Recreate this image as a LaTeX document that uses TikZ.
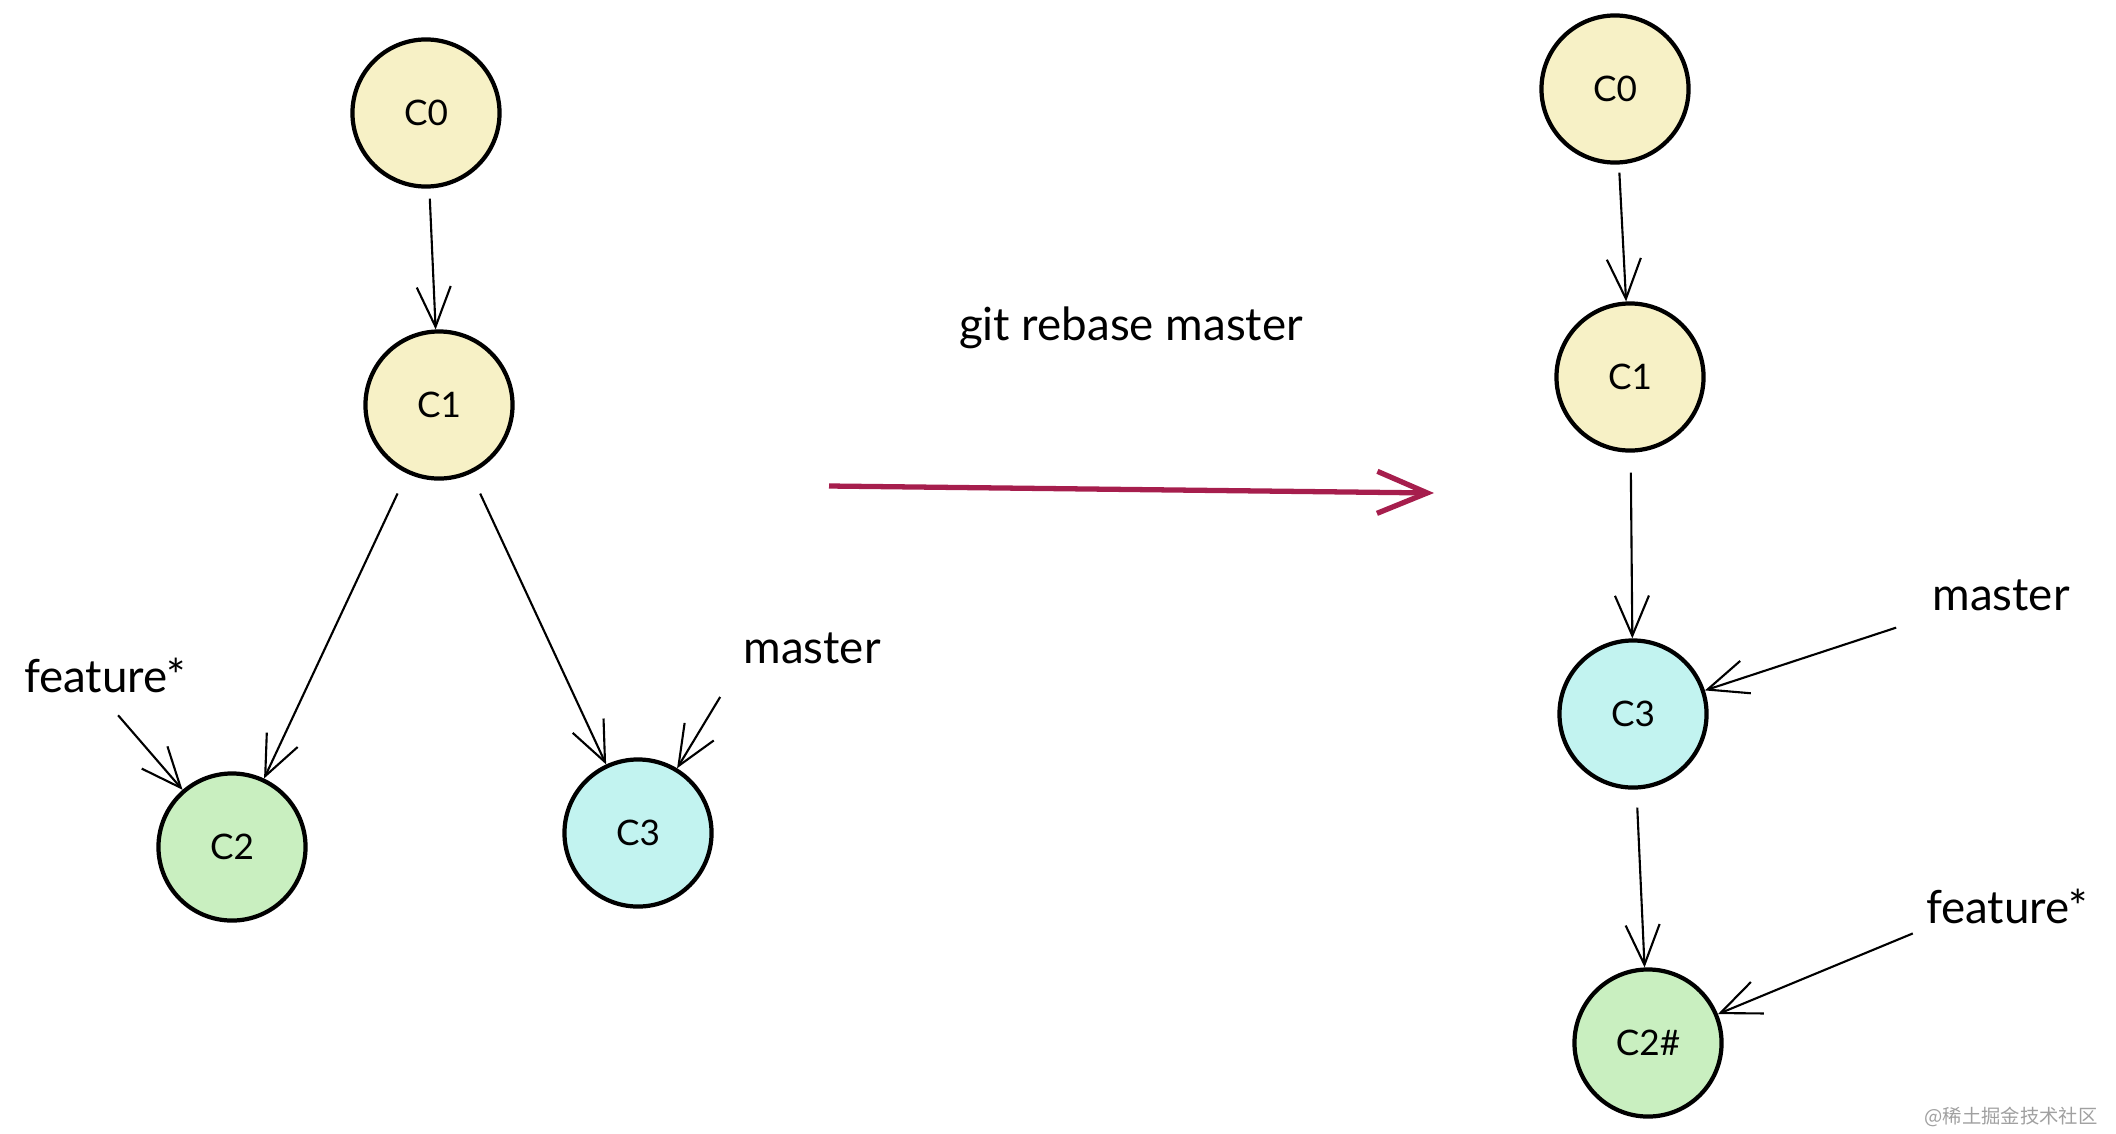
\documentclass[tikz,border=0pt]{standalone}
\usepackage{fontspec}
\setmainfont{Lato}
\newfontfamily\cjkfont{Noto Sans CJK SC}
\usetikzlibrary{arrows.meta,positioning}
\definecolor{commityellow}{HTML}{F7F1C6}
\definecolor{commitgreen}{HTML}{C9EFC0}
\definecolor{commitcyan}{HTML}{C2F3F0}
\definecolor{rebasered}{HTML}{A61E4D}
\definecolor{marklight}{HTML}{A0A0A0}

\begin{document}
\begin{tikzpicture}[x=0.01cm,y=-0.01cm,font=\fontsize{10}{12}\selectfont,commit/.style={circle,draw=black,line width=1.2pt,minimum size=1.47cm,inner sep=0pt},branch/.style={font=\fontsize{13}{15}\selectfont,inner sep=2pt},link/.style={-{Straight Barb[length=0.4cm,width=0.34cm]},line width=0.6pt}]
\useasboundingbox (0,0) rectangle (2116,1133);
% before
\node[commit,fill=commityellow] (c0L) at (426,113) {C0};
\node[commit,fill=commityellow] (c1L) at (439,405) {C1};
\node[commit,fill=commitgreen] (c2L) at (232,847) {C2};
\node[commit,fill=commitcyan] (c3L) at (638,833) {C3};
\node[branch] (featL) at (105,675) {feature*};
\node[branch] (mastL) at (812,648) {master};
\draw[link,shorten <=0.1cm] (c0L) -- (c1L);
\draw[link,shorten <=0.22cm] (c1L) -- (c2L);
\draw[link,shorten <=0.22cm] (c1L) -- (c3L);
\draw[link,shorten <=0.2cm] (featL.south) -- (c2L);
\draw[link,shorten <=0.3cm] (mastL.south west) -- (c3L);
% rebase
\node[branch] (cmd) at (1131,328) {git rebase master};
\coordinate (rbFrom) at (829,486);
\coordinate (rbTo) at (1434,493);
\draw[-{Straight Barb[length=0.5cm,width=0.42cm]},rebasered,line width=1.5pt] (rbFrom) -- (rbTo);
% after
\node[commit,fill=commityellow] (c0R) at (1615,89) {C0};
\node[commit,fill=commityellow] (c1R) at (1630,377) {C1};
\node[commit,fill=commitcyan] (c3R) at (1633,714) {C3};
\node[commit,fill=commitgreen] (c2R) at (1648,1043) {C2\#};
\node[branch] (mastR) at (2001,595) {master};
\node[branch] (featR) at (2007,906) {feature*};
\draw[link,shorten <=0.08cm] (c0R) -- (c1R);
\draw[link,shorten <=0.2cm] (c1R) -- (c3R);
\draw[link,shorten <=0.18cm] (c3R) -- (c2R);
\draw[link,shorten <=0.3cm] (mastR.south west) -- (c3R);
\draw[link,shorten <=0.06cm] (featR.south west) -- (c2R);
\node[anchor=east,text=marklight,font=\cjkfont\fontsize{5.5}{7}\selectfont] (mark) at (2110,1117) {@稀土掘金技术社区};
\end{tikzpicture}
\end{document}
